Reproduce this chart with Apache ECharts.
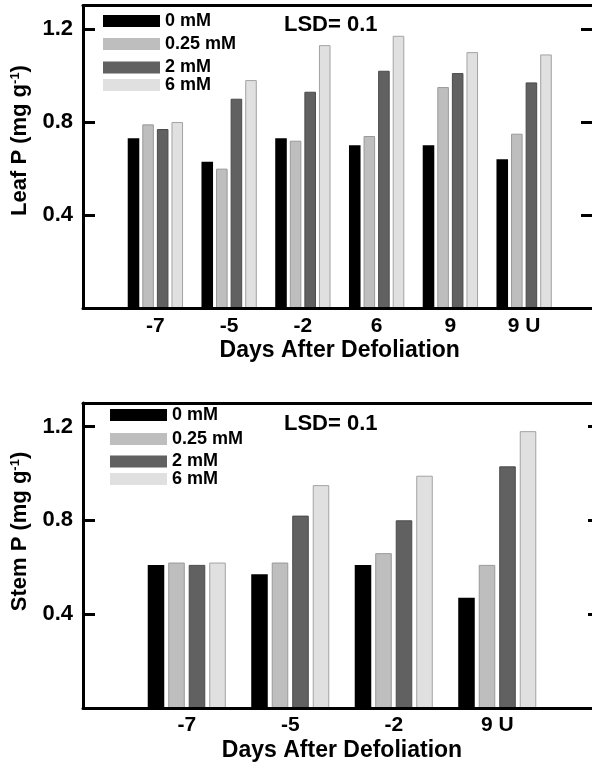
<!DOCTYPE html>
<html>
<head>
<meta charset="utf-8">
<script src="https://cdn.jsdelivr.net/npm/echarts@6/dist/echarts.min.js"></script>
<style>
html, body { margin: 0; padding: 0; background: #fff; }
#chart { width: 592px; height: 768px; }
</style>
</head>
<body>
<div id="chart"></div>
<script>
var FONT = '"Liberation Sans", Arial, sans-serif';

// treatments
var seriesNames = ['0 mM', '0.25 mM', '2 mM', '6 mM'];
var seriesColors = ['#000000', '#bebebe', '#616161', '#e0e0e0'];
var seriesBorders = ['#000000', '#999999', '#4a4a4a', '#a3a3a3'];

// top panel: leaf P
var leafDays = ['-7', '-5', '-2', '6', '9', '9 U'];
var leaf0 = [0.73, 0.63, 0.73, 0.70, 0.70, 0.64];
var leaf025 = [0.79, 0.60, 0.72, 0.74, 0.95, 0.75];
var leaf2 = [0.77, 0.90, 0.93, 1.02, 1.01, 0.97];
var leaf6 = [0.80, 0.98, 1.13, 1.17, 1.10, 1.09];

// bottom panel: stem P
var stemDays = ['-7', '-5', '-2', '9 U'];
var stem0 = [0.61, 0.57, 0.61, 0.47];
var stem025 = [0.62, 0.62, 0.66, 0.61];
var stem2 = [0.61, 0.82, 0.80, 1.03];
var stem6 = [0.62, 0.95, 0.99, 1.18];

var yTicks = [0.4, 0.8, 1.2];
var yMin = 0;
var yMax = 1.3;
var xTitle = 'Days After Defoliation';
var lsdText = 'LSD= 0.1';

var panels = [{
    days: leafDays,
    values: [leaf0, leaf025, leaf2, leaf6],
    yName: 'Leaf P (mg g{sup|-1})',
    top: 5.5, height: 303,
    barsLeft: 118.5, barsRight: 31,
    barGap: '26%', catGap: '25%',
    nameShift: 33, rightTick: 13,
    legendLeft: 103, legendRows: [21, 44, 67.5, 85],
    lsdTop: 14
}, {
    days: stemDays,
    values: [stem0, stem025, stem2, stem6],
    yName: 'Stem P (mg g{sup|-1})',
    top: 403, height: 305,
    barsLeft: 135, barsRight: 43,
    barGap: '24%', catGap: '24.6%',
    nameShift: 48, rightTick: 6,
    legendLeft: 110, legendRows: [415, 439, 461.5, 479],
    lsdTop: 413
}];

function blackLine(w){
    return { show: true, onZero: false, lineStyle: { color: '#000', width: w } };
}

var option = {
    animation: false,
    backgroundColor: '#fff',
    textStyle: { fontFamily: FONT },
    grid: [], xAxis: [], yAxis: [], series: [], legend: [], title: []
};

panels.forEach(function(p, pi){
    var frameGrid = pi * 2;
    var barsGrid = pi * 2 + 1;

    // outer frame (axis lines, ticks, tick labels); right edge sits just off the page
    option.grid.push({ left: 83, right: -2, top: p.top, height: p.height, outerBoundsMode: 'none' });
    // bars
    option.grid.push({ left: p.barsLeft, right: p.barsRight, top: p.top, height: p.height, outerBoundsMode: 'none' });

    option.xAxis.push({
        gridIndex: frameGrid, type: 'value', min: 0, max: 1, position: 'bottom', z: 5,
        axisLine: blackLine(3), axisTick: { show: false }, axisLabel: { show: false }, splitLine: { show: false }
    });
    option.xAxis.push({
        gridIndex: frameGrid, type: 'value', min: 0, max: 1, position: 'top', z: 5,
        axisLine: blackLine(3), axisTick: { show: false }, axisLabel: { show: false }, splitLine: { show: false }
    });
    var barsX = option.xAxis.length;
    option.xAxis.push({
        gridIndex: barsGrid, type: 'category', data: p.days,
        axisLine: { show: false }, axisTick: { show: false }, splitLine: { show: false },
        axisLabel: { color: '#000', fontSize: 21, fontWeight: 'bold', fontFamily: FONT, margin: 7 },
        name: xTitle, nameLocation: 'middle', nameGap: 31,
        nameTextStyle: { color: '#000', fontSize: 23, fontWeight: 'bold', fontFamily: FONT }
    });

    option.yAxis.push({
        gridIndex: frameGrid, type: 'value', min: yMin, max: yMax, position: 'left', z: 5,
        axisLine: blackLine(3),
        axisTick: { show: true, inside: true, length: 12, customValues: yTicks, lineStyle: { color: '#000', width: 3 } },
        axisLabel: {
            color: '#000', fontSize: 22, fontWeight: 'bold', fontFamily: FONT, margin: 10,
            customValues: yTicks,
            formatter: function(v){ return v.toFixed(1); }
        },
        splitLine: { show: false },
        name: p.yName, nameLocation: 'middle', nameRotate: 90, nameGap: 52,
        nameTextStyle: {
            color: '#000', fontSize: 22, fontWeight: 'bold', fontFamily: FONT,
            padding: [0, 0, 0, p.nameShift],
            rich: { sup: { fontSize: 13, fontWeight: 'bold', fontFamily: FONT, verticalAlign: 'top', color: '#000' } }
        }
    });
    option.yAxis.push({
        gridIndex: frameGrid, type: 'value', min: yMin, max: yMax, position: 'right', z: 5,
        axisLine: blackLine(3),
        axisTick: { show: true, inside: true, length: p.rightTick, customValues: yTicks, lineStyle: { color: '#000', width: 3 } },
        axisLabel: { show: false }, splitLine: { show: false }
    });
    var barsY = option.yAxis.length;
    option.yAxis.push({
        gridIndex: barsGrid, type: 'value', min: yMin, max: yMax, show: false
    });

    p.values.forEach(function(vals, si){
        option.series.push({
            name: seriesNames[si], type: 'bar',
            xAxisIndex: barsX, yAxisIndex: barsY,
            data: vals,
            barGap: p.barGap, barCategoryGap: p.catGap,
            itemStyle: { color: seriesColors[si], borderColor: seriesBorders[si], borderWidth: si === 0 ? 0 : 1 },
            emphasis: { disabled: true }
        });
    });

    // one legend per row so the row spacing follows the original
    p.legendRows.forEach(function(cy, si){
        option.legend.push({
            data: [seriesNames[si]], left: p.legendLeft, top: cy - 9, padding: 0,
            icon: 'rect', itemWidth: 57, itemHeight: 12, itemGap: 0,
            itemStyle: { borderWidth: 0 },
            selectedMode: false,
            textStyle: { color: '#000', fontSize: 18, fontWeight: 'bold', fontFamily: FONT }
        });
    });

    option.title.push({
        text: lsdText, left: 284, top: p.lsdTop, padding: 0,
        textStyle: { color: '#000', fontSize: 22, fontWeight: 'bold', fontFamily: FONT }
    });
});

var chart = echarts.init(document.getElementById('chart'), null, { renderer: 'canvas' });
chart.setOption(option);
</script>
</body>
</html>
